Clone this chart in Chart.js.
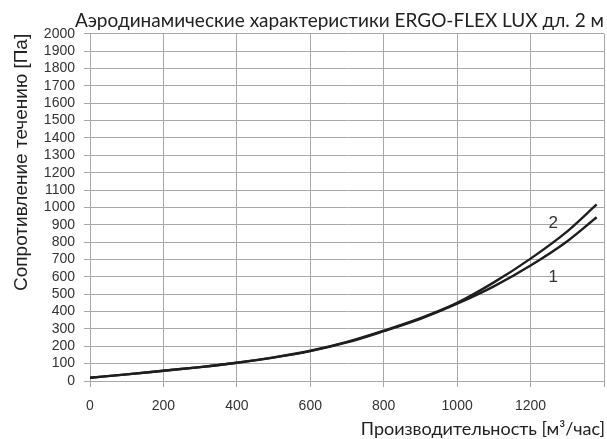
<!DOCTYPE html>
<html>
<head>
<meta charset="utf-8">
<script src="https://cdn.jsdelivr.net/npm/chart.js@4"></script>
<style>
  html, body { margin: 0; padding: 0; background: #fff; }
  #wrap { width: 607px; height: 439px; }
</style>
</head>
<body>
<div id="wrap"><canvas id="chart" width="607" height="439"></canvas></div>
<script>
// airflow, m3/h
const flow = [0, 100, 200, 300, 400, 500, 600, 700, 800, 900, 1000, 1100, 1200, 1300, 1380];
// pressure loss, Pa
const curve1 = [19, 38, 59, 80, 105, 135, 172, 222, 287, 358, 445, 545, 665, 805, 943];
const curve2 = [19, 38, 59, 80, 105, 136, 174, 225, 290, 362, 450, 568, 705, 862, 1017];
const curveNames = ['1', '2'];
// where the curve numbers sit (data coords)
const nameX = [1262, 1262];
const nameY = [598, 908];
const xTitle = 'Производительность [м³/час]';

const ink = '#1e1e1e';
const gridGray = '#a8a8a8';

// Curve numbers next to the lines + x axis title flush right
const curveLabels = {
  id: 'curveLabels',
  afterDatasetsDraw(chart) {
    const { ctx, scales } = chart;
    ctx.save();
    ctx.font = '17px "Liberation Sans", Arial, sans-serif';
    ctx.fillStyle = '#333';
    ctx.textAlign = 'center';
    ctx.textBaseline = 'middle';
    curveNames.forEach((n, i) => {
      ctx.fillText(n, scales.x.getPixelForValue(nameX[i]), scales.y.getPixelForValue(nameY[i]));
    });
    ctx.font = '18px Lato, sans-serif';
    ctx.fillStyle = '#222';
    ctx.textAlign = 'right';
    ctx.textBaseline = 'alphabetic';
    ctx.fillText(xTitle, chart.width - 2, chart.height - 4);
    ctx.restore();
  }
};

const toPoints = vals => flow.map((x, i) => ({ x, y: vals[i] }));

new Chart(document.getElementById('chart'), {
  type: 'line',
  data: {
    datasets: [
      { label: '1', data: toPoints(curve1), borderColor: ink, borderWidth: 2.4, pointRadius: 0, cubicInterpolationMode: 'monotone', fill: false },
      { label: '2', data: toPoints(curve2), borderColor: ink, borderWidth: 2.4, pointRadius: 0, cubicInterpolationMode: 'monotone', fill: false }
    ]
  },
  options: {
    responsive: false,
    animation: false,
    layout: { padding: { left: 0, right: 3, top: 0, bottom: 0 } },
    plugins: {
      legend: { display: false },
      tooltip: { enabled: false },
      title: {
        display: true,
        text: 'Аэродинамические характеристики ERGO-FLEX LUX дл. 2 м',
        align: 'end',
        color: '#222',
        font: { family: 'Lato', size: 19, weight: 'normal' },
        padding: { top: 9, bottom: 2 }
      }
    },
    scales: {
      x: {
        type: 'linear',
        min: 0,
        max: 1400,
        ticks: {
          stepSize: 200,
          color: '#333',
          font: { family: '"Liberation Sans", Arial', size: 14 },
          padding: 11,
          maxRotation: 0,
          callback: v => (v === 1400 ? '' : String(v))
        },
        grid: { color: gridGray, lineWidth: 1, tickLength: 6 },
        border: { color: gridGray },
        afterFit: s => { s.height = 58; s.paddingRight = 0; }
      },
      y: {
        min: 0,
        max: 2000,
        ticks: {
          stepSize: 100,
          autoSkip: false,
          color: '#333',
          font: { family: '"Liberation Sans", Arial', size: 14 },
          padding: 9,
          callback: v => String(v)
        },
        grid: { color: gridGray, lineWidth: 1, tickLength: 6 },
        border: { color: gridGray },
        title: {
          display: true,
          text: 'Сопротивление течению [Па]',
          align: 'end',
          color: '#222',
          font: { family: '"Liberation Sans", Arial', size: 19 },
          padding: { top: 10, bottom: 0 }
        },
        afterFit: s => { s.width = 90; }
      }
    }
  },
  plugins: [curveLabels]
});
</script>
</body>
</html>
